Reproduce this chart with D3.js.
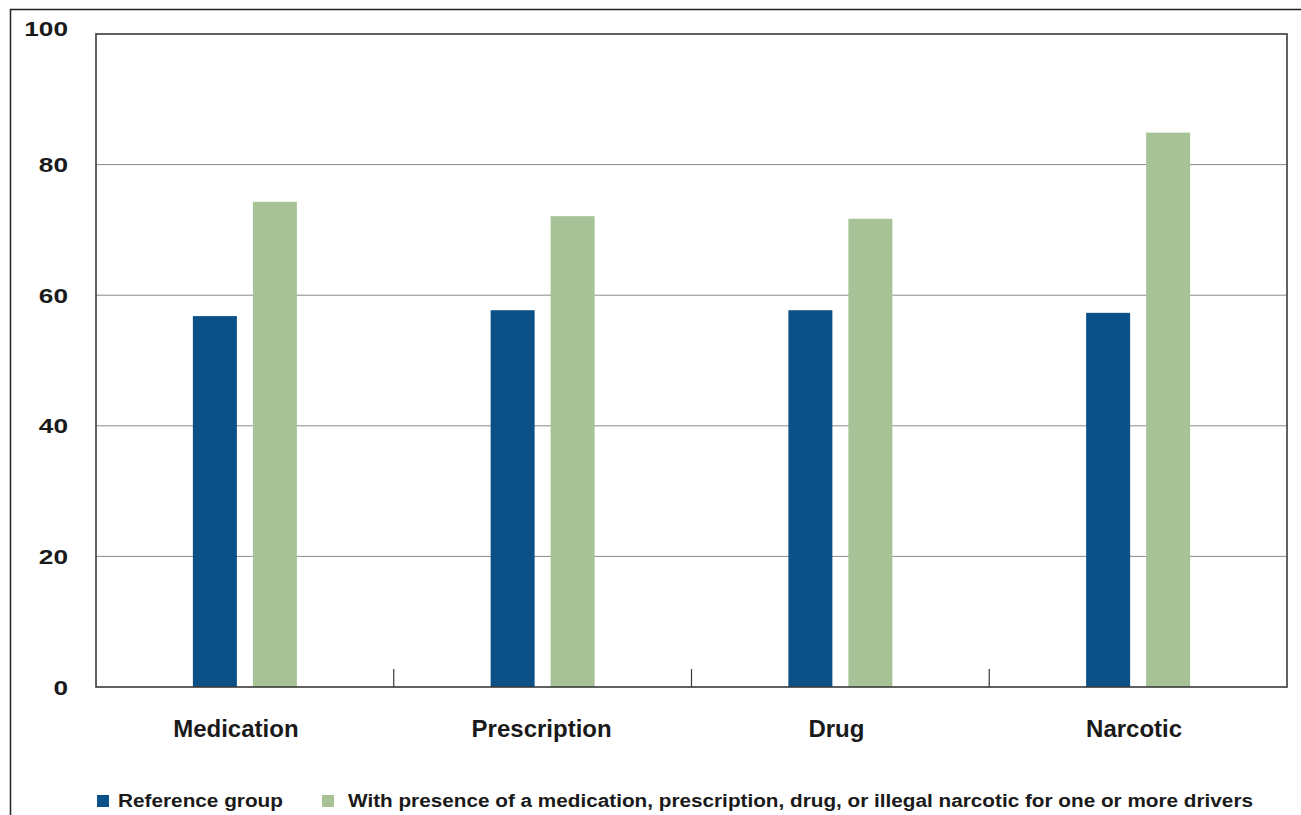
<!DOCTYPE html>
<html>
<head>
<meta charset="utf-8">
<script src="https://cdn.jsdelivr.net/npm/d3@7"></script>
<style>
  html, body { margin: 0; padding: 0; background: #fff; }
  svg { display: block; font-family: "Liberation Sans", Arial, Helvetica, sans-serif; }
</style>
</head>
<body>
<svg id="chart" width="1301" height="815"></svg>
<script>
// Share (%) by substance category
const categories = ["Medication", "Prescription", "Drug", "Narcotic"];
const referenceGroup = [56.8, 57.7, 57.7, 57.3];
const withPresence = [74.3, 72.1, 71.7, 84.9];
const yTicks = [0, 20, 40, 60, 80, 100];
const seriesNames = [
  "Reference group",
  "With presence of a medication, prescription, drug, or illegal narcotic for one or more drivers"
];
const seriesColors = ["#0b5087", "#a7c296"];

const svg = d3.select("#chart");
const plot = { left: 96, right: 1287, top: 34, bottom: 687 };

// outer frame
svg.append("rect")
  .attr("x", 10.5).attr("y", 9.5)
  .attr("width", 1320).attr("height", 900)
  .attr("fill", "none").attr("stroke", "#222").attr("stroke-width", 1.5);

const x = d3.scaleBand().domain(categories).range([plot.left, plot.right]);
const y = d3.scaleLinear().domain([0, 100]).range([plot.bottom, plot.top]);

// horizontal gridlines
svg.append("g")
  .selectAll("line")
  .data(yTicks.filter(t => t > 0 && t < 100))
  .join("line")
  .attr("x1", plot.left).attr("x2", plot.right)
  .attr("y1", d => y(d)).attr("y2", d => y(d))
  .attr("stroke", "#8a8a8a").attr("stroke-width", 1);

// bars
const barW = 44, gap = 16;
const rows = categories.map((c, i) => ({ c, vals: [referenceGroup[i], withPresence[i]] }));
const groups = svg.append("g").selectAll("g")
  .data(rows).join("g");
groups.selectAll("rect")
  .data(d => d.vals.map((v, k) => ({ c: d.c, v, k })))
  .join("rect")
  .attr("x", d => x(d.c) + x.bandwidth() / 2 + (d.k === 0 ? -(barW + gap / 2) : gap / 2))
  .attr("y", d => y(d.v))
  .attr("width", barW)
  .attr("height", d => y(0) - y(d.v))
  .attr("fill", d => seriesColors[d.k]);

// plot frame
svg.append("rect")
  .attr("x", plot.left).attr("y", plot.top)
  .attr("width", plot.right - plot.left).attr("height", plot.bottom - plot.top)
  .attr("fill", "none").attr("stroke", "#3a3a3a").attr("stroke-width", 1.6);

// category separator ticks on the baseline
svg.append("g")
  .selectAll("line")
  .data(categories.slice(1))
  .join("line")
  .attr("x1", d => x(d)).attr("x2", d => x(d))
  .attr("y1", plot.bottom - 18).attr("y2", plot.bottom)
  .attr("stroke", "#3a3a3a").attr("stroke-width", 1.2);

// y axis labels (wide bold digits)
svg.append("g")
  .selectAll("text")
  .data(yTicks)
  .join("text")
  .attr("transform", d => `translate(68,${y(d) + (d === 100 ? -6 : 0)}) scale(1.25,1)`)
  .attr("text-anchor", "end")
  .attr("dy", "0.36em")
  .attr("font-size", 21).attr("font-weight", "bold").attr("fill", "#1a1a1a")
  .text(d => d);

// category labels
const labelShift = [-9, -1, -4, -4];
svg.append("g")
  .selectAll("text")
  .data(categories)
  .join("text")
  .attr("x", (d, i) => x(d) + x.bandwidth() / 2 + labelShift[i])
  .attr("y", 737)
  .attr("text-anchor", "middle")
  .attr("font-size", 24).attr("font-weight", "bold").attr("fill", "#1a1a1a")
  .text(d => d);

// legend
const legendX = [97, 322];
const legend = svg.append("g").selectAll("g")
  .data(seriesNames).join("g")
  .attr("transform", (d, i) => `translate(${legendX[i]},795)`);
legend.append("rect")
  .attr("width", 12).attr("height", 12)
  .attr("fill", (d, i) => seriesColors[i]);
legend.append("text")
  .attr("x", (d, i) => i === 0 ? 21 : 26)
  .attr("y", 12)
  .attr("font-size", 18).attr("font-weight", "bold").attr("fill", "#1a1a1a")
  .attr("textLength", (d, i) => i === 0 ? 165 : 905)
  .attr("lengthAdjust", "spacingAndGlyphs")
  .text(d => d);
</script>
</body>
</html>
